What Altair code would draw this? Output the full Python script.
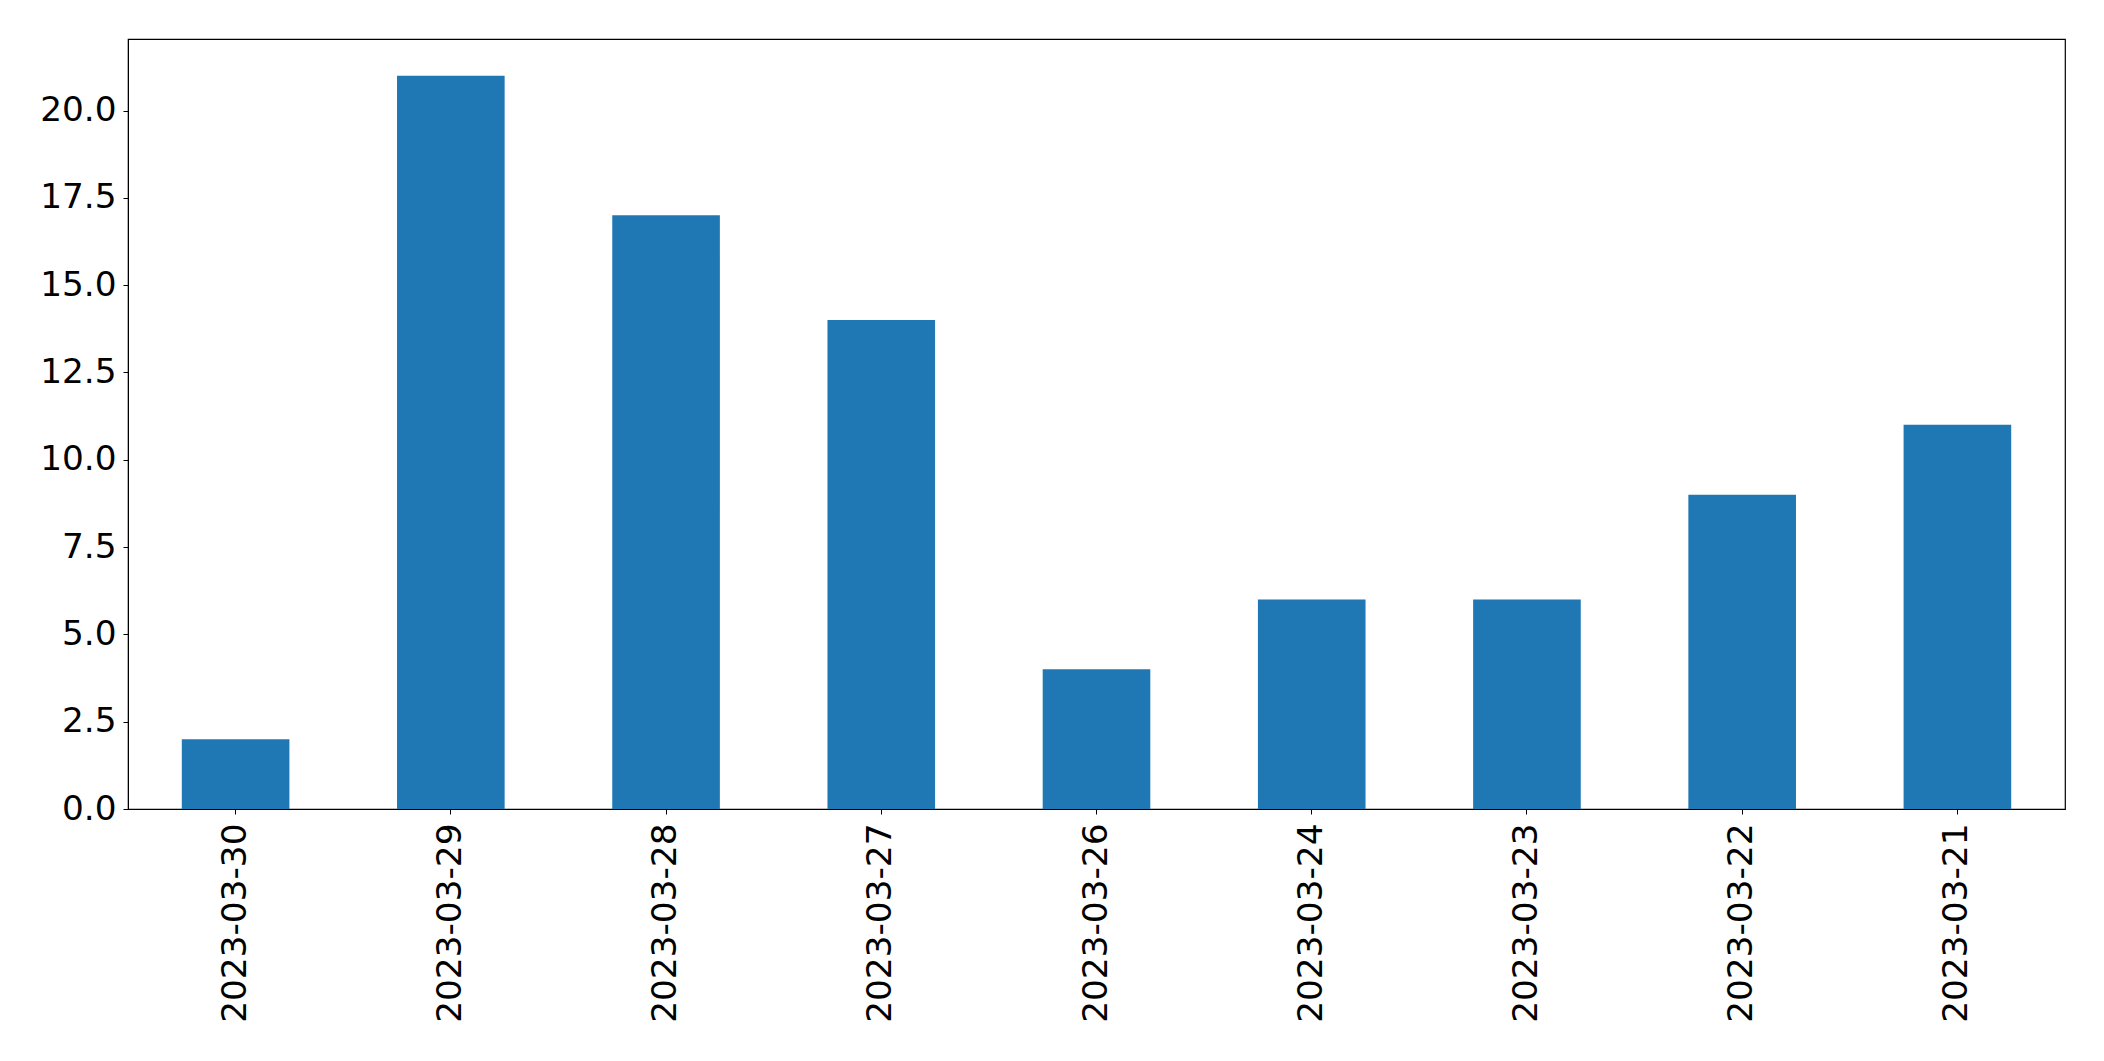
import altair as alt
import pandas as pd

dates = ["2023-03-30", "2023-03-29", "2023-03-28", "2023-03-27", "2023-03-26",
         "2023-03-24", "2023-03-23", "2023-03-22", "2023-03-21"]
counts = [2, 21, 17, 14, 4, 6, 6, 9, 11]

df = pd.DataFrame({"date": dates, "count": counts})

FONT = "DejaVu Sans"
FS = 34.3

chart = alt.Chart(df).mark_bar(color="#1f77b4").encode(
    x=alt.X("date:N", sort=None, title=None,
            scale=alt.Scale(paddingInner=0.5, paddingOuter=0.25),
            axis=alt.Axis(labelAngle=-90, labelFontSize=FS, labelFont=FONT,
                          labelColor="black", tickColor="black", domainColor="black",
                          tickSize=5, labelPadding=9, labelLimit=0, grid=False)),
    y=alt.Y("count:Q", title=None,
            scale=alt.Scale(domain=[0, 22.05], nice=False, zero=True),
            axis=alt.Axis(values=[0, 2.5, 5, 7.5, 10, 12.5, 15, 17.5, 20],
                          format=".1f", labelFontSize=FS, labelFont=FONT,
                          labelColor="black", tickColor="black", domainColor="black",
                          tickSize=5, labelPadding=7, grid=False)),
).properties(
    width=1937, height=770,
    autosize=alt.AutoSizeParams(type="none"),
    padding={"left": 120, "top": 31, "right": 30, "bottom": 230},
).configure_view(stroke="black", strokeWidth=1.2)

chart.save("out.html", embed_options={"renderer": "svg", "actions": False})
